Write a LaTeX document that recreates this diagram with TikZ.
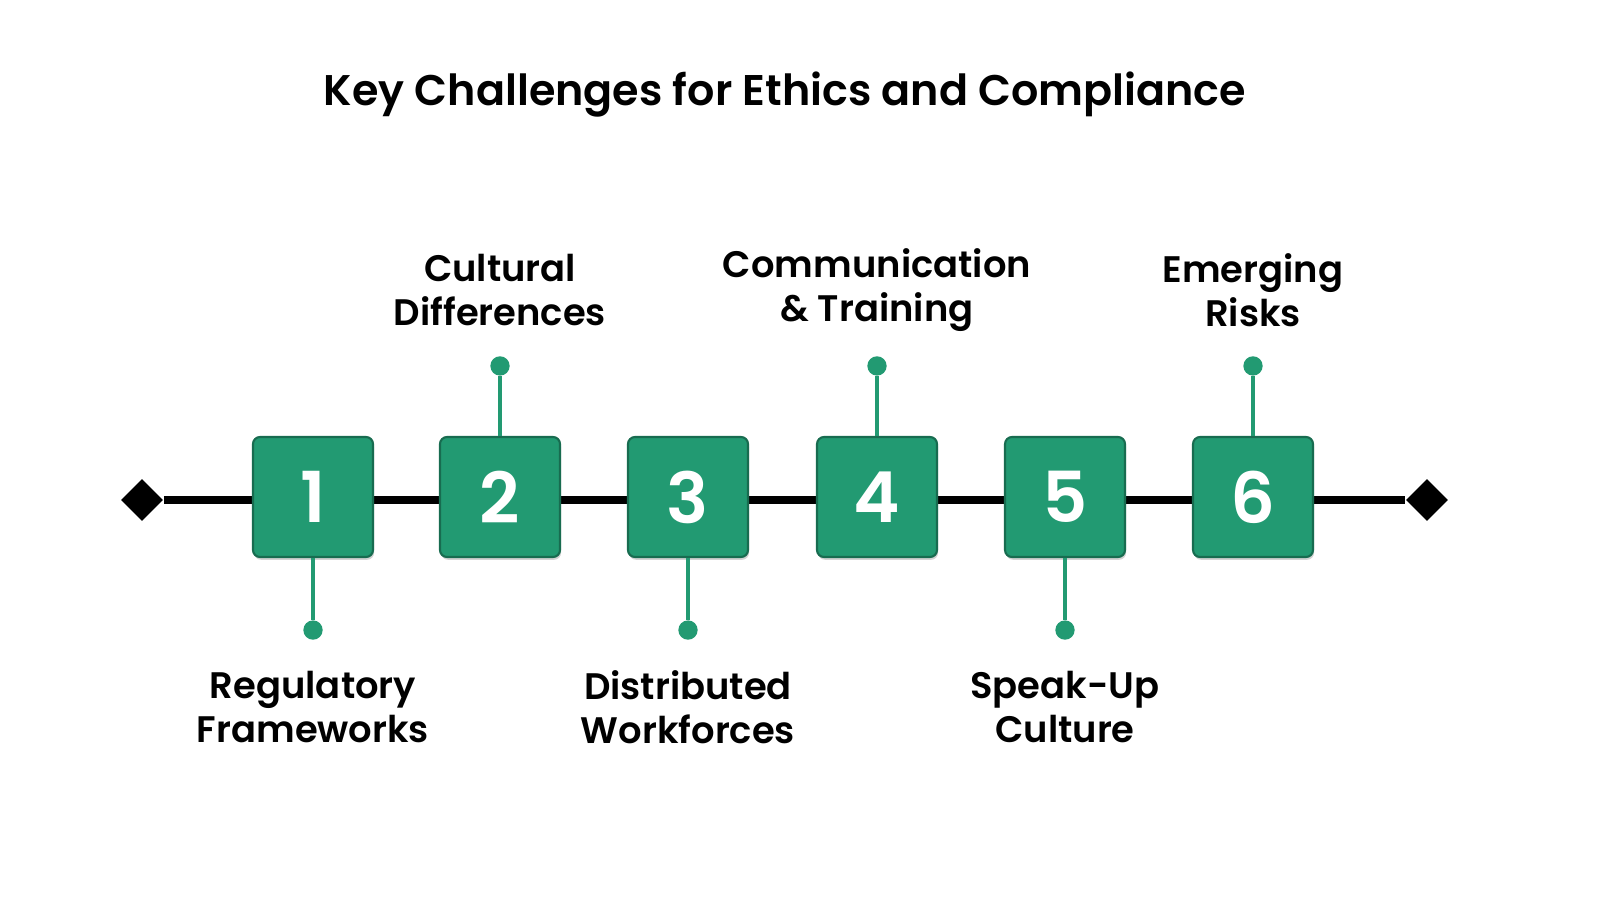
\documentclass[tikz,border=0pt]{standalone}
\usepackage{fontspec}
\setmainfont{Poppins}[BoldFont={Poppins SemiBold}]
\usetikzlibrary{shapes.geometric,shadows}
\definecolor{boxgreen}{HTML}{229A72}
\tikzstyle{numbox}=[rectangle,rounded corners=2pt,fill=boxgreen,draw=boxgreen!70!black,line width=0.6pt,minimum size=1.2cm,inner sep=0pt,text=white,font=\fontsize{20}{20}\selectfont\bfseries,drop shadow={shadow xshift=0.3pt,shadow yshift=-0.8pt,opacity=0.35}]
\tikzstyle{pin}=[circle,fill=boxgreen,minimum size=5.5pt,inner sep=0pt]
\tikzstyle{tip}=[diamond,fill=black,minimum size=12pt,inner sep=0pt]
\tikzstyle{label}=[align=center,font=\fontsize{10.5}{12.5}\selectfont\bfseries]

\begin{document}
\begin{tikzpicture}
	\useasboundingbox (0,0) rectangle (16,9);
	%Title
	\node[font=\fontsize{12.2}{14}\selectfont\bfseries] (title) at (7.85,8.05) {Key Challenges for Ethics and Compliance};
	%The line with its ends
	\node[tip] (left) at (1.42,4.0) {};
	\node[tip] (right) at (14.27,4.0) {};
	\draw[line width=2.2pt] (left) -- (right);
	%The numbered boxes
	\foreach \pos/\name in {{(3.13,4.03)/1},	{(5.00,4.03)/2},	{(6.88,4.03)/3},
							{(8.77,4.03)/4},	{(10.65,4.03)/5},	{(12.53,4.03)/6}}
	\node[numbox] (box\name) at \pos {\name};
	%Pins above
	\foreach \name/\text in {2/{Cultural\\Differences}, 4/{Communication\\\& Training}, 6/{Emerging\\Risks}}{
		\node[pin] (pin\name) at ([yshift=0.7cm]box\name.north) {};
		\draw[boxgreen,line width=1.3pt] (box\name.north) -- (pin\name);
		\node[label] (text\name) at ([yshift=0.76cm]pin\name) {\text};
	}
	%Pins below
	\foreach \name/\text in {1/{Regulatory\\Frameworks}, 3/{Distributed\\Workforces}, 5/{Speak-Up\\Culture}}{
		\node[pin] (pin\name) at ([yshift=-0.72cm]box\name.south) {};
		\draw[boxgreen,line width=1.3pt] (box\name.south) -- (pin\name);
		\node[label] (text\name) at ([yshift=-0.77cm]pin\name) {\text};
	}
\end{tikzpicture}
\end{document}
